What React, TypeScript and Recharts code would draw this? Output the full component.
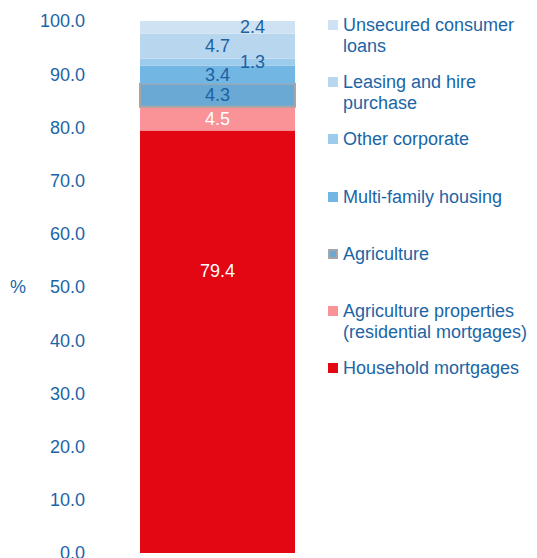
import React from "react";
import { BarChart, Bar, XAxis, YAxis, LabelList, Legend } from "recharts";

const categories = ["Lending"];
const seriesNames = [
  "Household mortgages",
  "Agriculture properties (residential mortgages)",
  "Agriculture",
  "Multi-family housing",
  "Other corporate",
  "Leasing and hire purchase",
  "Unsecured consumer loans",
];
const seriesValues = [79.4, 4.5, 4.3, 3.4, 1.3, 4.7, 2.4];
const legendLabels = [
  ["Household mortgages"],
  ["Agriculture properties", "(residential mortgages)"],
  ["Agriculture"],
  ["Multi-family housing"],
  ["Other corporate"],
  ["Leasing and hire", "purchase"],
  ["Unsecured consumer", "loans"],
];
const yTicks = [0, 10, 20, 30, 40, 50, 60, 70, 80, 90, 100];

const COLORS = ["#e30613", "#f99397", "#6aa9d3", "#72b6e4", "#9dcbeb", "#b8d6ee", "#cfe2f3"];
const LABEL_COLORS = ["#ffffff", "#ffffff", "#1b62a3", "#1b62a3", "#1b62a3", "#1b62a3", "#1b62a3"];
const LABEL_DX = [0, 0, 0, 0, 35, 0, 35];
const LABEL_DY = [-71, 0, 0, 0, 0, 0, 0];
const TEXT = "#1b65a6";
const FONT = '"Liberation Sans", Arial, sans-serif';

const chartData = categories.map((name) => {
  const row: Record<string, string | number> = { name };
  seriesNames.forEach((s, i) => {
    row[s] = seriesValues[i];
  });
  return row;
});

function makeLabel(i: number) {
  return (props: any) => {
    const { x, y, width, height, value } = props;
    return (
      <text
        x={x + width / 2 + LABEL_DX[i]}
        y={y + height / 2 + LABEL_DY[i]}
        textAnchor="middle"
        dominantBaseline="central"
        fill={LABEL_COLORS[i]}
        fontSize={18}
        fontFamily={FONT}
      >
        {Number(value).toFixed(1)}
      </text>
    );
  };
}

function LegendBox() {
  const order = seriesNames.map((_, i) => i).reverse();
  return (
    <div style={{ fontFamily: FONT, fontSize: 18, color: TEXT, lineHeight: "21px" }}>
      {order.map((i) => (
        <div key={seriesNames[i]} style={{ height: 57.2, display: "flex", alignItems: "flex-start" }}>
          <span
            style={{
              display: "inline-block",
              width: 10,
              height: 10,
              marginTop: 5,
              marginRight: 5,
              background: COLORS[i],
              boxSizing: "border-box",
              border: i === 2 ? "2px solid #a6a6a6" : "none",
              flex: "none",
            }}
          />
          <div>
            {legendLabels[i].map((line) => (
              <div key={line} style={{ whiteSpace: "nowrap" }}>{line}</div>
            ))}
          </div>
        </div>
      ))}
    </div>
  );
}

export default function App() {
  return (
    <div style={{ position: "absolute", left: 0, top: 0, width: 537, height: 558, background: "#fff" }}>
      <BarChart
        width={537}
        height={558}
        data={chartData}
        margin={{ top: 21, right: 192, bottom: 5, left: 0 }}
        style={{ fontFamily: FONT, overflow: "visible" }}
      >
        <XAxis dataKey="name" hide />
        <YAxis
          domain={[0, 100]}
          ticks={yTicks}
          interval={0}
          width={90}
          axisLine={false}
          tickLine={false}
          tickSize={0}
          tickMargin={5}
          tick={{ fill: TEXT, fontSize: 18, fontFamily: FONT }}
          tickFormatter={(v: number) => v.toFixed(1)}
          label={{ value: "%", position: "insideLeft", offset: 10, fill: TEXT, fontSize: 18 }}
        />
        <Legend
          layout="horizontal"
          align="center"
          verticalAlign="middle"
          content={() => <LegendBox />}
          wrapperStyle={{ left: 328, top: 15, width: 209, height: 410 }}
        />
        {seriesNames.map((s, i) => (
          <Bar
            key={s}
            dataKey={s}
            stackId="a"
            barSize={155}
            fill={COLORS[i]}
            stroke={i === 2 ? "#a6a6a6" : undefined}
            strokeWidth={i === 2 ? 2 : 0}
            isAnimationActive={false}
          >
            <LabelList dataKey={s} content={makeLabel(i)} />
          </Bar>
        ))}
      </BarChart>
    </div>
  );
}
